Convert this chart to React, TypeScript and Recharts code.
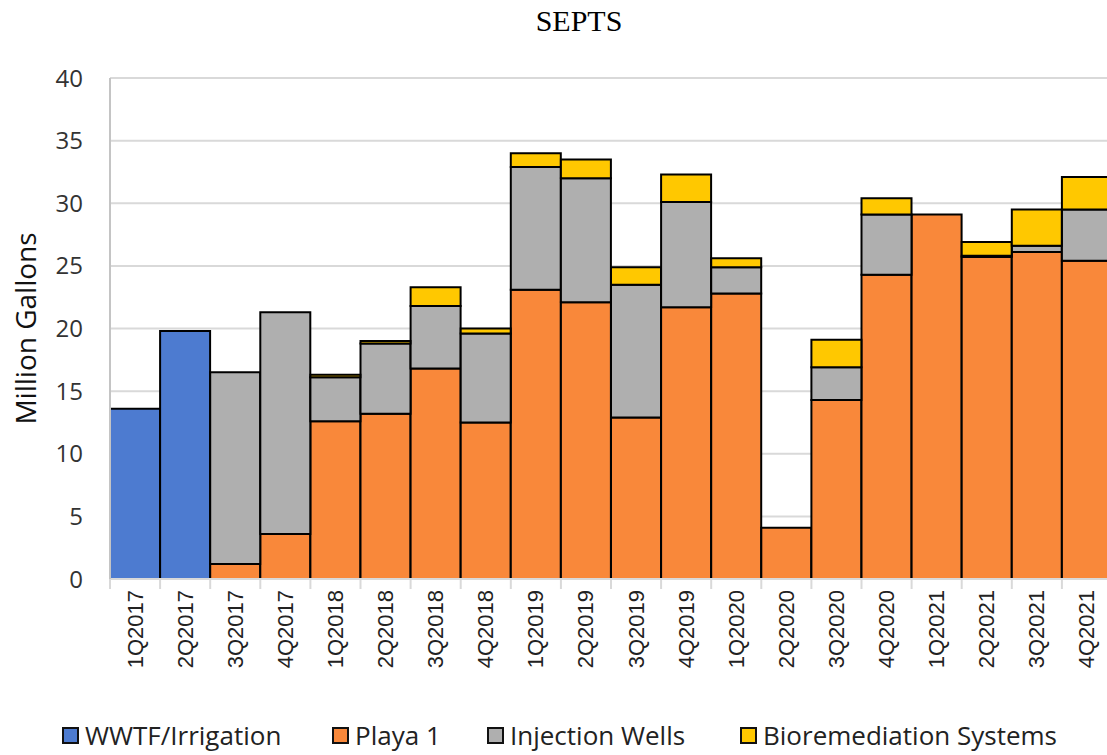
import { BarChart, Bar, XAxis, YAxis, CartesianGrid } from 'recharts'

const quarters = [
  '1Q2017', '2Q2017', '3Q2017', '4Q2017',
  '1Q2018', '2Q2018', '3Q2018', '4Q2018',
  '1Q2019', '2Q2019', '3Q2019', '4Q2019',
  '1Q2020', '2Q2020', '3Q2020', '4Q2020',
  '1Q2021', '2Q2021', '3Q2021', '4Q2021',
]
const wwtf = [13.6, 19.8, 0, 0, 0, 0, 0, 0, 0, 0, 0, 0, 0, 0, 0, 0, 0, 0, 0, 0]
const playa = [0, 0, 1.2, 3.6, 12.6, 13.2, 16.8, 12.5, 23.1, 22.1, 12.9, 21.7, 22.8, 4.1, 14.3, 24.3, 29.1, 25.7, 26.1, 25.4]
const injection = [0, 0, 15.3, 17.7, 3.5, 5.6, 5.0, 7.1, 9.8, 9.9, 10.6, 8.4, 2.1, 0, 2.6, 4.8, 0, 0.1, 0.5, 4.1]
const bio = [0, 0, 0, 0, 0.2, 0.2, 1.5, 0.4, 1.1, 1.5, 1.4, 2.2, 0.7, 0, 2.2, 1.3, 0, 1.1, 2.9, 2.6]
const yTicks = [0, 5, 10, 15, 20, 25, 30, 35, 40]

const series = [
  { key: 'wwtf', name: 'WWTF/Irrigation', color: '#4d7bd0' },
  { key: 'playa', name: 'Playa 1', color: '#f9883a' },
  { key: 'injection', name: 'Injection Wells', color: '#afafaf' },
  { key: 'bio', name: 'Bioremediation Systems', color: '#ffc800' },
]
// legend item left edges (px)
const legendX = [62, 332, 487, 740]

const data = quarters.map((q, i) => ({
  q,
  wwtf: wwtf[i],
  playa: playa[i],
  injection: injection[i],
  bio: bio[i],
}))

const CHART_W = 1140
const CHART_H = 755
const MARGIN = { top: 78, right: 28, left: 0, bottom: 0 }
const Y_W = 110
const X_H = 176
const band = (CHART_W - MARGIN.right - MARGIN.left - Y_W) / quarters.length

const QuarterTick = ({ x, y, payload }: any) => (
  <g>
    <line x1={x - band / 2} y1={y} x2={x - band / 2} y2={y + 10} stroke="#d9d9d9" strokeWidth={2} />
    <text
      x={x}
      y={y + 11}
      transform={`rotate(-90, ${x}, ${y + 11})`}
      textAnchor="end"
      dominantBaseline="central"
      fontFamily="'Liberation Sans', Arial, sans-serif"
      fontSize={22}
      fill="#222"
    >
      {payload.value}
    </text>
  </g>
)

const YLabel = ({ viewBox }: any) => {
  const cx = viewBox.x + 25
  const cy = viewBox.y + viewBox.height / 2
  return (
    <text
      x={cx}
      y={cy}
      transform={`rotate(-90, ${cx}, ${cy})`}
      textAnchor="middle"
      dominantBaseline="central"
      fontFamily="'Open Sans', sans-serif"
      fontSize={28}
      fill="#111"
    >
      Million Gallons
    </text>
  )
}

export default function App() {
  return (
    <div
      style={{
        position: 'absolute',
        left: 0,
        top: 0,
        width: 1107,
        height: 755,
        overflow: 'hidden',
        background: '#fff',
      }}
    >
      {/* title */}
      <div
        style={{
          position: 'absolute',
          top: 3,
          left: 479,
          width: 200,
          textAlign: 'center',
          fontFamily: "'Liberation Serif', 'Times New Roman', serif",
          fontSize: 30,
          lineHeight: '36px',
          color: '#000',
        }}
      >
        SEPTS
      </div>

      <BarChart width={CHART_W} height={CHART_H} data={data} margin={MARGIN} barCategoryGap={0}>
        <CartesianGrid vertical={false} stroke="#d9d9d9" strokeWidth={2} />
        <XAxis
          dataKey="q"
          height={X_H}
          interval={0}
          tickSize={0}
          tickMargin={0}
          tickLine={false}
          axisLine={{ stroke: '#d9d9d9', strokeWidth: 2 }}
          tick={<QuarterTick />}
        />
        <YAxis
          width={Y_W}
          domain={[0, 40]}
          ticks={yTicks}
          interval={0}
          tickLine={false}
          tickMargin={21}
          axisLine={{ stroke: '#c4c4c4', strokeWidth: 2 }}
          tick={{ fill: '#333', fontSize: 24, fontFamily: "'Open Sans', sans-serif" }}
          label={<YLabel />}
        />
        {series.map((s) => (
          <Bar
            key={s.key}
            dataKey={s.key}
            name={s.name}
            stackId="a"
            fill={s.color}
            stroke="#000"
            strokeWidth={2}
            isAnimationActive={false}
          />
        ))}
      </BarChart>

      {/* legend */}
      {series.map((s, i) => (
        <div
          key={s.key}
          style={{
            position: 'absolute',
            top: 720,
            left: legendX[i],
            display: 'flex',
            alignItems: 'center',
            fontFamily: "'Open Sans', sans-serif",
            fontSize: 26,
            lineHeight: '30px',
            color: '#222',
            whiteSpace: 'nowrap',
          }}
        >
          <span
            style={{
              display: 'inline-block',
              width: 13,
              height: 13,
              background: s.color,
              border: '2px solid #111',
              marginRight: 6,
            }}
          />
          {s.name}
        </div>
      ))}
    </div>
  )
}
